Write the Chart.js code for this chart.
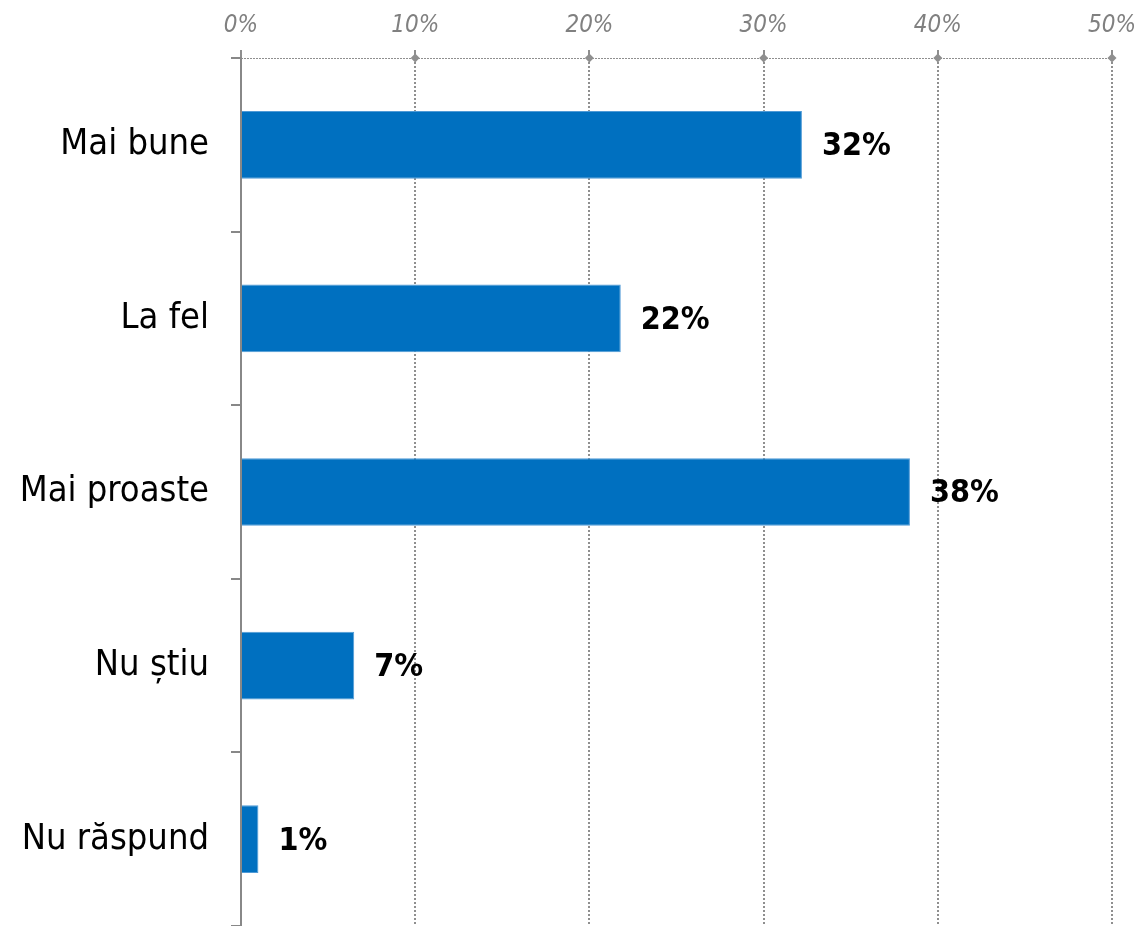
<!DOCTYPE html>
<html>
<head>
<meta charset="utf-8">
<script src="https://cdn.jsdelivr.net/npm/chart.js@4/dist/chart.umd.min.js"></script>
<style>
  html, body { margin: 0; padding: 0; background: #fff; }
  #wrap { width: 1140px; height: 926px; }
</style>
</head>
<body>
<div id="wrap"><canvas id="chart" width="1140" height="926"></canvas></div>
<script>
// chart data
const categories = ['Mai bune', 'La fel', 'Mai proaste', 'Nu știu', 'Nu răspund'];
const values = [32.2, 21.8, 38.4, 6.5, 1.0];
const valueLabels = ['32%', '22%', '38%', '7%', '1%'];
const xTicks = [0, 10, 20, 30, 40, 50];

const FONT = '"DejaVu Sans Condensed", "DejaVu Sans", sans-serif';
const GRID = '#8f8f8f';

// value labels to the right of each bar
const barLabels = {
  id: 'barLabels',
  afterDatasetsDraw(chart) {
    const ctx = chart.ctx;
    const meta = chart.getDatasetMeta(0);
    ctx.save();
    ctx.font = 'bold 32px ' + FONT;
    ctx.fillStyle = '#000';
    ctx.textAlign = 'left';
    ctx.textBaseline = 'middle';
    meta.data.forEach((bar, i) => {
      ctx.fillText(valueLabels[i], bar.x + 20, bar.y + 2);
    });
    ctx.restore();
  }
};

// dotted top axis line + little diamonds where gridlines meet it
const topAxis = {
  id: 'topAxis',
  afterDraw(chart) {
    const ctx = chart.ctx;
    const x = chart.scales.x;
    const { left, right, top } = chart.chartArea;
    ctx.save();
    ctx.strokeStyle = GRID;
    ctx.lineWidth = 1;
    ctx.setLineDash([2, 1]);
    ctx.beginPath();
    ctx.moveTo(left, top + 0.5);
    ctx.lineTo(right, top + 0.5);
    ctx.stroke();
    ctx.setLineDash([]);
    ctx.fillStyle = GRID;
    xTicks.forEach(v => {
      if (v === 0) return;
      const px = x.getPixelForValue(v);
      ctx.beginPath();
      ctx.moveTo(px, top - 4.5);
      ctx.lineTo(px + 4.5, top);
      ctx.lineTo(px, top + 4.5);
      ctx.lineTo(px - 4.5, top);
      ctx.closePath();
      ctx.fill();
    });
    ctx.restore();
  }
};

new Chart(document.getElementById('chart'), {
  type: 'bar',
  data: {
    labels: categories,
    datasets: [{
      data: values,
      backgroundColor: '#0070C0',
      borderColor: '#4f9ad6',
      borderWidth: 1,
      borderSkipped: 'start',
      categoryPercentage: 1,
      barPercentage: 0.39
    }]
  },
  options: {
    indexAxis: 'y',
    responsive: false,
    animation: false,
    layout: { padding: { left: 0, right: 28, top: 0, bottom: 0 } },
    plugins: { legend: { display: false }, tooltip: { enabled: false } },
    scales: {
      x: {
        position: 'top',
        min: 0,
        max: 50,
        afterBuildTicks(scale) { scale.ticks = xTicks.map(v => ({ value: v })); },
        afterFit(scale) {
          scale.height = 58;
          scale.paddingLeft = 0;
          scale.paddingRight = 0;
        },
        ticks: {
          color: '#808080',
          padding: 10,
          font: { family: FONT, size: 24, style: 'italic' },
          callback: v => v + '%'
        },
        grid: {
          color: GRID,
          lineWidth: 2,
          tickLength: 8,
          tickColor: GRID
        },
        border: { display: false, dash: [2, 2] }
      },
      y: {
        afterFit(scale) {
          scale.width = 241;
          scale.paddingTop = 0;
          scale.paddingBottom = 0;
        },
        ticks: {
          color: '#000',
          padding: 22,
          font: { family: FONT, size: 36 }
        },
        grid: {
          offset: true,
          drawOnChartArea: false,
          color: '#888',
          lineWidth: 2,
          tickLength: 10
        },
        border: { display: true, color: '#888', width: 2 }
      }
    }
  },
  plugins: [barLabels, topAxis]
});
</script>
</body>
</html>
